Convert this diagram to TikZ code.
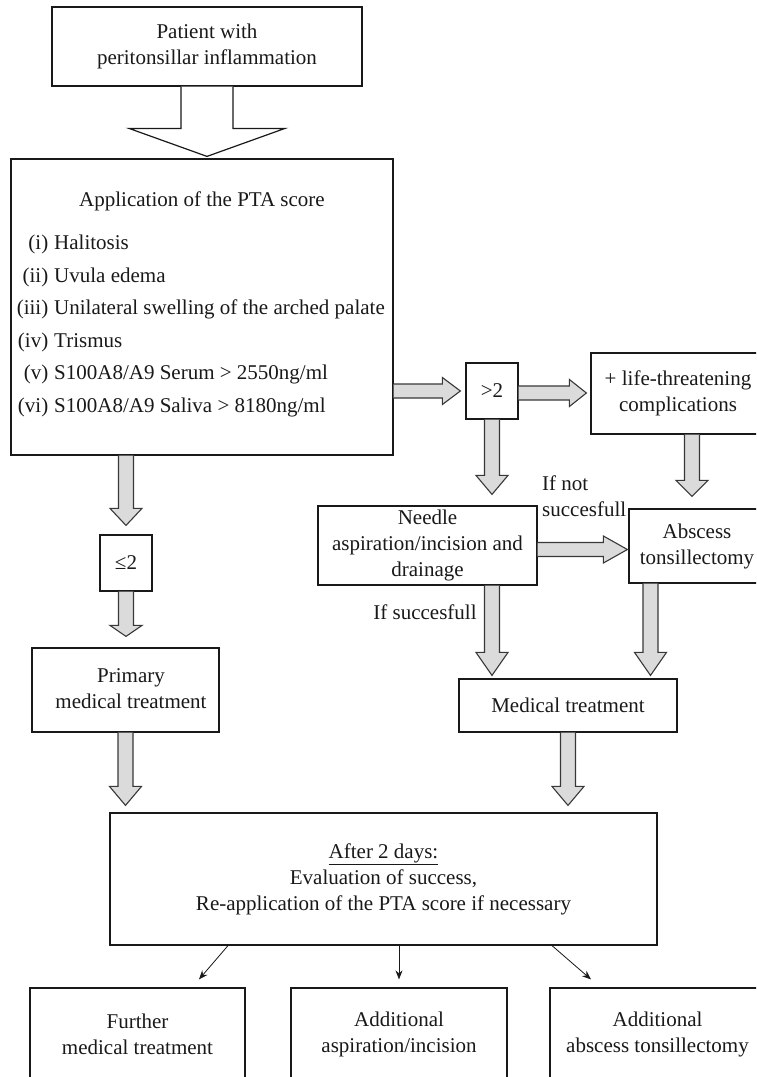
\documentclass[tikz,border=0pt]{standalone}
\usepackage{fontspec}
\setmainfont{Liberation Serif}
\usetikzlibrary{calc,arrows.meta}
\tikzset{
  box/.style={draw=black!90, line width=1.2pt, inner sep=0pt, fill=white,
    font=\fontsize{21}{26}\selectfont, align=center, text=black!90},
  txt/.style={inner sep=0pt, font=\fontsize{21}{26}\selectfont, align=center, text=black!90},
  garrow/.style={fill=black!14, draw=black!78, line width=1.1pt, line join=miter},
  harrow/.style={fill=white, draw=black!90, line width=1.2pt, line join=miter},
  thinarrow/.style={draw=black!90, line width=0.8pt, -{Stealth[length=9pt,width=7pt]}}
}
% box from corner (x1,y1) to (x2,y2): {name}{x1}{y1}{x2}{y2}{text}
\newcommand\boxnode[6]{%
  \node[box, minimum width={(#4-#2)*1pt}, minimum height={(#5-#3)*1pt}]
    (#1) at ({(#2+#4)/2},{(#3+#5)/2}) {#6};}
% vertical gray block arrow: [head length]{start}{tip}
\newcommand\gdown[3][19]{%
  \draw[garrow] let \p1=#2, \p2=#3 in
   (\x1-7.5pt,\y1) -- (\x1-7.5pt,\y2+#1pt) -- (\x1-16pt,\y2+#1pt) -- (\x1,\y2)
   -- (\x1+16pt,\y2+#1pt) -- (\x1+7.5pt,\y2+#1pt) -- (\x1+7.5pt,\y1);}
% horizontal gray block arrow: [head length]{start}{tip}
\newcommand\gright[3][19]{%
  \draw[garrow] let \p1=#2, \p2=#3 in
   (\x1,\y1+7pt) -- (\x2-#1pt,\y1+7pt) -- (\x2-#1pt,\y1+13.5pt) -- (\x2,\y1)
   -- (\x2-#1pt,\y1-13.5pt) -- (\x2-#1pt,\y1-7pt) -- (\x1,\y1-7pt);}
\begin{document}
\begin{tikzpicture}[x=1pt,y=-1pt]
\useasboundingbox (0,0) rectangle (756,1077);
\clip (0,0) rectangle (756,1077);
\fill[white] (0,0) rectangle (756,1077);

% boxes
\boxnode{patient}{52}{7}{362}{86}{Patient with\\peritonsillar inflammation}
\boxnode{app}{11}{159}{393}{455}{}
\boxnode{gt2}{466}{363}{518}{419}{>2}
\boxnode{life}{591}{353}{765}{434}{+ life-threatening\\complications}
\boxnode{needle}{318}{506}{537}{585}{Needle\\aspiration/incision and\\drainage}
\boxnode{abs}{629}{509}{765}{583}{Abscess\\tonsillectomy}
\boxnode{le2}{100}{535}{152}{591}{≤2}
\boxnode{primary}{32}{648}{219}{732}{}
\node[txt] (primaryt) at (131,689) {Primary\\medical treatment};
\boxnode{med}{459}{679}{677}{732}{Medical treatment}
\boxnode{after}{110}{813}{657}{945}{\underline{After 2 days:}\\Evaluation of success,\\Re-application of the PTA score if necessary}
\boxnode{further}{30}{988}{245}{1080}{Further\\medical treatment}
\boxnode{addasp}{291}{988}{507}{1080}{Additional\\aspiration/incision}
\boxnode{addabs}{550}{988}{765}{1080}{Additional\\abscess tonsillectomy}

% application content
\node[txt, anchor=base] (apptitle) at (202,206) {Application of the PTA score};
\node[txt, anchor=base east] (l1) at (48.5,249) {(i)};
\node[txt, anchor=base west] (i1) at (54,249) {Halitosis};
\node[txt, anchor=base east] (l2) at (48.5,282) {(ii)};
\node[txt, anchor=base west] (i2) at (54,282) {Uvula edema};
\node[txt, anchor=base east] (l3) at (48.5,314) {(iii)};
\node[txt, anchor=base west] (i3) at (54,314) {Unilateral swelling of the arched palate};
\node[txt, anchor=base east] (l4) at (48.5,347) {(iv)};
\node[txt, anchor=base west] (i4) at (54,347) {Trismus};
\node[txt, anchor=base east] (l5) at (48.5,379) {(v)};
\node[txt, anchor=base west] (i5) at (54,379) {S100A8/A9 Serum > 2550ng/ml};
\node[txt, anchor=base east] (l6) at (48.5,412) {(vi)};
\node[txt, anchor=base west] (i6) at (54,412) {S100A8/A9 Saliva > 8180ng/ml};

% labels
\node[txt, align=left, anchor=west] (ifnot) at (542,496.5) {If not\\succesfull};
\node[txt] (ifsucc) at (425,612) {If succesfull};

% hollow arrow
\draw[harrow] let \p1=(patient.south), \p2=([yshift=2pt]app.north) in
  (\x1-26pt,\y1) -- (\x1-26pt,\y2+28pt) -- (\x1-78pt,\y2+28pt) -- (\x1,\y2)
  -- (\x1+78pt,\y2+28pt) -- (\x1+26pt,\y2+28pt) -- (\x1+26pt,\y1);

% gray block arrows
\gright[18]{(app.east |- gt2.west)}{([xshift=-5pt]gt2.west)}
\gright[17]{([yshift=-2pt]gt2.east)}{([xshift=-4pt]life.west)}
\gdown[19]{(gt2.south)}{([yshift=11pt]needle.north)}
\gdown[16]{([xshift=14pt]life.south)}{([yshift=12pt]abs.north)}
\gright[24]{([yshift=-4pt]needle.east)}{([xshift=-1pt]abs.west)}
\gdown[17]{(app.south -| le2.north)}{([yshift=9pt]le2.north)}
\gdown[11]{(le2.south)}{([yshift=11pt]primary.north)}
\gdown[19]{(primary.south)}{([yshift=7pt]after.north)}
\gdown[23]{(needle.south -| gt2.south)}{([yshift=3pt]med.north)}
\gdown[23]{([xshift=-46.5pt]abs.south)}{([yshift=3pt]med.north)}
\gdown[19]{(med.south)}{([yshift=7pt]after.north)}

% thin arrows
\draw[thinarrow] ([xshift=-155.5pt]after.south) -- ([xshift=61.5pt,yshift=8pt]further.north);
\draw[thinarrow] (after.south -| addasp.north) -- ([yshift=8pt]addasp.north);
\draw[thinarrow] ([xshift=168.5pt]after.south) -- ([xshift=-66.5pt,yshift=8pt]addabs.north);
\end{tikzpicture}
\end{document}
